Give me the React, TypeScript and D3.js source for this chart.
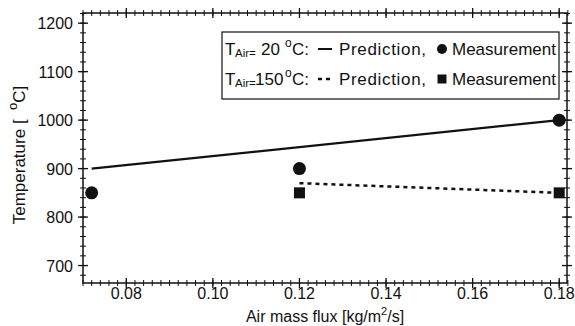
import * as d3 from "d3";

// data
const pred20X = [0.072, 0.18];
const pred20Y = [900, 1000];
const meas20X = [0.072, 0.12, 0.18];
const meas20Y = [850, 900, 1000];
const pred150X = [0.12, 0.18];
const pred150Y = [870, 850];
const meas150X = [0.12, 0.18];
const meas150Y = [850, 850];

const xTicks = [0.08, 0.1, 0.12, 0.14, 0.16, 0.18];
const yTicks = [700, 800, 900, 1000, 1100, 1200];

const W = 575;
const H = 326;
const margin = { top: 13, right: 8, bottom: 43, left: 83 };
const font = "Arial, 'Liberation Sans', sans-serif";
const ink = "#111";

const App = () => {
  const x = d3.scaleLinear().domain([0.07, 0.1818]).range([margin.left, W - margin.right]);
  const y = d3.scaleLinear().domain([664, 1221]).range([H - margin.bottom, margin.top]);
  const [x0, x1] = x.range();
  const [y0, y1] = y.range();

  const xMinor = d3.range(0.07, 0.1821, 0.002).map((v) => +v.toFixed(3));
  const yMinor = d3.range(680, 1221, 20);

  const line = d3
    .line<[number, number]>()
    .x((d) => x(d[0]))
    .y((d) => y(d[1]));

  const pts = (xs: number[], ys: number[]) => xs.map((v, i) => [v, ys[i]] as [number, number]);

  const lx = 222;
  const ly = 32;
  const row1 = 55;
  const row2 = 85;

  const legendLabel = (yb: number, num: string, numX: number) => (
    <g fontFamily={font} fill={ink}>
      <text x={225} y={yb} fontSize={17}>T</text>
      <text x={235} y={yb + 2} fontSize={11.5}>Air=</text>
      <text x={numX} y={yb} fontSize={17}>{num}</text>
      <text x={285} y={yb - 8} fontSize={12}>o</text>
      <text x={292} y={yb} fontSize={17}>C:</text>
    </g>
  );

  return (
    <svg width={W} height={H} style={{ position: "absolute", left: 0, top: 0, background: "#fff" }}>
      {/* minor ticks */}
      <g stroke={ink} strokeWidth={1}>
        {xMinor.map((v) => (
          <g key={"xm" + v}>
            <line x1={x(v)} x2={x(v)} y1={y0 - 3} y2={y0 + 3} />
            <line x1={x(v)} x2={x(v)} y1={y1 - 3} y2={y1 + 3} />
          </g>
        ))}
        {yMinor.map((v) => (
          <g key={"ym" + v}>
            <line x1={x0 - 3} x2={x0 + 3} y1={y(v)} y2={y(v)} />
            <line x1={x1 - 3} x2={x1 + 3} y1={y(v)} y2={y(v)} />
          </g>
        ))}
      </g>
      {/* major ticks */}
      <g stroke={ink} strokeWidth={1.3}>
        {xTicks.map((v) => (
          <g key={"xM" + v}>
            <line x1={x(v)} x2={x(v)} y1={y0 - 5} y2={y0 + 5} />
            <line x1={x(v)} x2={x(v)} y1={y1 - 5} y2={y1 + 5} />
          </g>
        ))}
        {yTicks.map((v) => (
          <g key={"yM" + v}>
            <line x1={x0 - 5} x2={x0 + 5} y1={y(v)} y2={y(v)} />
            <line x1={x1 - 5} x2={x1 + 5} y1={y(v)} y2={y(v)} />
          </g>
        ))}
      </g>
      <rect x={x0} y={y1} width={x1 - x0} height={y0 - y1} fill="none" stroke={ink} strokeWidth={1.5} />

      {/* tick labels */}
      <g fontFamily={font} fontSize={16} fill={ink}>
        {xTicks.map((v) => (
          <text key={"xl" + v} x={x(v)} y={299} textAnchor="middle">
            {v.toFixed(2)}
          </text>
        ))}
        {yTicks.map((v) => (
          <text key={"yl" + v} x={73} y={y(v) + 6} textAnchor="end">
            {v}
          </text>
        ))}
      </g>

      {/* axis titles */}
      <text x={(x0 + x1) / 2} y={322} textAnchor="middle" fontFamily={font} fontSize={16} fill={ink}>
        Air mass flux [kg/m<tspan fontSize={11} dy={-7}>2</tspan>
        <tspan dy={7}>/s]</tspan>
      </text>
      <text
        transform={`translate(25,155) rotate(-90)`}
        textAnchor="middle"
        fontFamily={font}
        fontSize={17}
        fill={ink}
        style={{ whiteSpace: "pre" }}
      >
        {"Temperature [  "}
        <tspan fontSize={13} dy={-8}>o</tspan>
        <tspan dy={8}>C]</tspan>
      </text>

      {/* series */}
      <path d={line(pts(pred20X, pred20Y)) ?? ""} fill="none" stroke={ink} strokeWidth={2.2} />
      <path
        d={line(pts(pred150X, pred150Y)) ?? ""}
        fill="none"
        stroke={ink}
        strokeWidth={2.5}
        strokeDasharray="4,4"
      />
      {meas20X.map((v, i) => (
        <circle key={"c" + i} cx={x(v)} cy={y(meas20Y[i])} r={6.5} fill={ink} />
      ))}
      {meas150X.map((v, i) => (
        <rect key={"s" + i} x={x(v) - 5.5} y={y(meas150Y[i]) - 5.5} width={11} height={11} fill={ink} />
      ))}

      {/* legend */}
      <rect x={lx} y={ly} width={559 - lx} height={99 - ly} fill="#fff" stroke={ink} strokeWidth={1.2} />
      {legendLabel(row1, "20", 261)}
      {legendLabel(row2, "150", 255)}
      <line x1={318} x2={332} y1={row1 - 6} y2={row1 - 6} stroke={ink} strokeWidth={2} />
      <line x1={318} x2={334} y1={row2 - 6} y2={row2 - 6} stroke={ink} strokeWidth={2.5} strokeDasharray="4,4" />
      <g fontFamily={font} fontSize={17} fill={ink}>
        <text x={339} y={row1} textLength={87}>Prediction,</text>
        <text x={339} y={row2} textLength={87}>Prediction,</text>
        <text x={452} y={row1}>Measurement</text>
        <text x={452} y={row2}>Measurement</text>
      </g>
      <circle cx={442} cy={row1 - 6} r={5} fill={ink} />
      <rect x={437.5} y={row2 - 10.5} width={9} height={9} fill={ink} />
    </svg>
  );
};

export default App;
